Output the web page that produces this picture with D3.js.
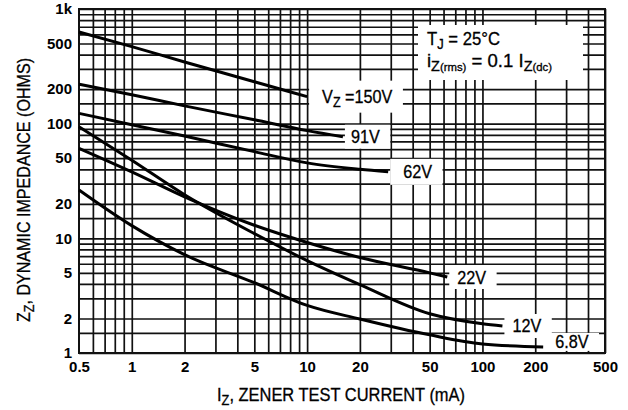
<!DOCTYPE html>
<html>
<head>
<meta charset="utf-8">
<script src="https://cdn.jsdelivr.net/npm/d3@7"></script>
<style>
  body { margin: 0; background: #fff; }
  text { font-family: "Liberation Sans Narrow", "Arial Narrow", "Liberation Sans", Arial, sans-serif; fill: #000; stroke: #000; stroke-width: 0.3; }
  .tick-label { font-family: "Liberation Sans", Arial, sans-serif; font-weight: bold; font-size: 15px; stroke: none; }
</style>
</head>
<body>
<svg id="chart" width="628" height="410"></svg>
<script>
// Axis tick labels
const currentTicks = [0.5, 1, 2, 5, 10, 20, 50, 100, 200, 500];
const currentTickLabels = ["0.5", "1", "2", "5", "10", "20", "50", "100", "200", "500"];
const impedanceTicks = [1, 2, 5, 10, 20, 50, 100, 200, 500, 1000];
const impedanceTickLabels = ["1", "2", "5", "10", "20", "50", "100", "200", "500", "1k"];

// Grid line mantissas per decade
const currentGridSteps = [1, 2, 3, 4, 5, 6, 7, 8, 9];
const impedanceGridSteps = [1, 1.5, 2, 3, 4, 5, 6, 7, 8, 9];

// Dynamic impedance curves: test current (mA) and Zz (ohms)
const i150V = [0.5, 1, 2, 5, 10];
const z150V = [630, 470, 345, 232, 172];
const i91V = [0.5, 1, 2, 5, 10, 16];
const z91V = [221, 179, 143, 108, 87, 77];
const i62V = [0.5, 1, 2, 5, 10, 20, 29];
const z62V = [123, 98, 78, 57, 45.5, 40, 38];
const i22V = [0.5, 1, 2, 5, 10, 20, 50, 63];
const z22V = [61, 38, 23, 13, 9.2, 6.8, 5.0, 4.6];
const i12V = [0.5, 1, 2, 5, 10, 20, 50, 100, 130];
const z12V = [94, 48, 24, 11, 6.4, 3.95, 2.2, 1.8, 1.72];
const i6V8 = [0.5, 1, 2, 5, 10, 20, 50, 100, 222];
const z6V8 = [26.4, 12.9, 7.2, 4.1, 2.6, 1.98, 1.44, 1.2, 1.13];

const voltageLabels = ["150V", "91V", "62V", "22V", "12V", "6.8V"];

const series = [
  { name: voltageLabels[0], i: i150V, z: z150V, dx: 15, dy: 0, padY: 16 },
  { name: voltageLabels[1], i: i91V, z: z91V, dx: 8, dy: 0, padY: 12 },
  { name: voltageLabels[2], i: i62V, z: z62V, dx: 15, dy: 0, padY: 13 },
  { name: voltageLabels[3], i: i22V, z: z22V, dx: 10, dy: 0, padY: 12 },
  { name: voltageLabels[4], i: i12V, z: z12V, dx: 10, dy: 0, padY: 12 },
  { name: voltageLabels[5], i: i6V8, z: z6V8, dx: 12, dy: -5, padY: 9 }
];

const svg = d3.select("#chart");
const plotLeft = 79, plotRight = 605, plotTop = 9, plotBottom = 353;

const x = d3.scaleLog().domain([0.5, 500]).range([plotLeft, plotRight]);
const y = d3.scaleLog().domain([1, 1000]).range([plotBottom, plotTop]);

// grid values built from the decade mantissas
const xGrid = [0.6, 0.7, 0.8, 0.9]
  .concat([1, 10].flatMap(d => currentGridSteps.map(s => s * d)))
  .concat([100, 200, 300, 400, 500]);
const yGrid = [1, 10, 100].flatMap(d => impedanceGridSteps.map(s => s * d)).concat([1000]);

const grid = svg.append("g");
grid.append("g")
  .attr("transform", `translate(0,${plotBottom})`)
  .call(d3.axisBottom(x).tickValues(xGrid).tickSize(-(plotBottom - plotTop)).tickFormat(""))
  .call(g => g.select(".domain").remove())
  .call(g => g.selectAll("line").attr("stroke", "#111").attr("stroke-width", 1.7));
grid.append("g")
  .attr("transform", `translate(${plotLeft},0)`)
  .call(d3.axisLeft(y).tickValues(yGrid).tickSize(-(plotRight - plotLeft)).tickFormat(""))
  .call(g => g.select(".domain").remove())
  .call(g => g.selectAll("line").attr("stroke", "#111").attr("stroke-width", 1.7));

// frame
svg.append("rect")
  .attr("x", plotLeft).attr("y", plotTop)
  .attr("width", plotRight - plotLeft).attr("height", plotBottom - plotTop)
  .attr("fill", "none").attr("stroke", "#111").attr("stroke-width", 2);

// tick labels
svg.append("g")
  .attr("transform", `translate(0,${plotBottom})`)
  .call(d3.axisBottom(x).tickValues(currentTicks).tickSize(0).tickPadding(8)
    .tickFormat((d, k) => currentTickLabels[k]))
  .call(g => g.select(".domain").remove())
  .call(g => g.selectAll("text").attr("class", "tick-label").attr("fill", "#000"));
svg.append("g")
  .attr("transform", `translate(${plotLeft},0)`)
  .call(d3.axisLeft(y).tickValues(impedanceTicks).tickSize(0).tickPadding(7)
    .tickFormat((d, k) => impedanceTickLabels[k]))
  .call(g => g.select(".domain").remove())
  .call(g => g.selectAll("text").attr("class", "tick-label").attr("fill", "#000"));

// curves
const line = d3.line()
  .x(d => x(d[0]))
  .y(d => y(d[1]))
  .curve(d3.curveMonotoneX);

series.forEach(s => {
  const pts = s.i.map((v, k) => [v, s.z[k]]);
  svg.append("path")
    .datum(pts)
    .attr("d", line)
    .attr("fill", "none")
    .attr("stroke", "#000")
    .attr("stroke-width", 3)
    .attr("stroke-linecap", "butt");
});

// curve labels on white patches (slightly condensed lettering)
const squeeze = 0.9;
series.forEach((s, idx) => {
  const ex = x(s.i[s.i.length - 1]);
  const ey = y(s.z[s.z.length - 1]) + s.dy;
  const g = svg.append("g");
  const box = g.append("rect").attr("fill", "#fff");
  const tg = g.append("g")
    .attr("transform", `translate(${ex + s.dx},${ey + 6.5}) scale(${squeeze},1)`);
  const t = tg.append("text").attr("font-size", 18);
  if (idx === 0) {
    t.append("tspan").text("V");
    t.append("tspan").attr("font-size", 14).attr("dy", 4).text("Z");
    t.append("tspan").attr("dy", -4).text(" =" + s.name);
  } else {
    t.text(s.name);
  }
  const bb = t.node().getBBox();
  const textRight = ex + s.dx + (bb.x + bb.width) * squeeze;
  box.attr("x", ex + 2)
    .attr("y", ey - s.padY)
    .attr("width", textRight + 10 - (ex + 2))
    .attr("height", s.padY * 2);
});

// conditions box
svg.append("rect")
  .attr("x", 418).attr("y", 25).attr("width", 165).attr("height", 55)
  .attr("fill", "#fff");
const t1 = svg.append("text").attr("x", 427).attr("y", 45).attr("font-size", 18)
  .attr("textLength", 73).attr("lengthAdjust", "spacingAndGlyphs");
t1.append("tspan").text("T");
t1.append("tspan").attr("font-size", 14).attr("dy", 4).text("J");
t1.append("tspan").attr("dy", -4).text(" = 25°C");
const t2 = svg.append("text").attr("x", 427).attr("y", 67).attr("font-size", 18)
  .attr("textLength", 125).attr("lengthAdjust", "spacingAndGlyphs");
t2.append("tspan").text("i");
t2.append("tspan").attr("font-size", 14).attr("dy", 4).text("Z");
t2.append("tspan").attr("font-size", 11).text("(rms)");
t2.append("tspan").attr("dy", -4).text(" = 0.1 I");
t2.append("tspan").attr("font-size", 14).attr("dy", 4).text("Z");
t2.append("tspan").attr("font-size", 11).text("(dc)");

// axis titles
const xt = svg.append("text")
  .attr("x", 217).attr("y", 401)
  .attr("font-size", 18)
  .attr("textLength", 248).attr("lengthAdjust", "spacingAndGlyphs");
xt.append("tspan").text("I");
xt.append("tspan").attr("font-size", 14).attr("dy", 4).text("Z");
xt.append("tspan").attr("dy", -4).text(", ZENER TEST CURRENT (mA)");

const yt = svg.append("text")
  .attr("transform", "translate(30,322) rotate(-90)")
  .attr("x", 0).attr("y", 0)
  .attr("font-size", 18)
  .attr("textLength", 264).attr("lengthAdjust", "spacingAndGlyphs");
yt.append("tspan").text("Z");
yt.append("tspan").attr("font-size", 14).attr("dy", 4).text("Z");
yt.append("tspan").attr("dy", -4).text(", DYNAMIC IMPEDANCE (OHMS)");
</script>
</body>
</html>
